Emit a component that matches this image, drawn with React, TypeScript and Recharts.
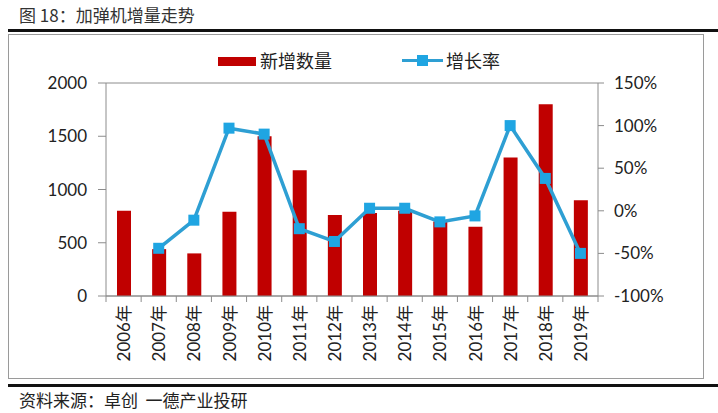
import React from "react";
import {
  ComposedChart,
  Bar,
  Line,
  XAxis,
  YAxis,
  CartesianGrid,
} from "recharts";

const years = ["2006年", "2007年", "2008年", "2009年", "2010年", "2011年", "2012年", "2013年", "2014年", "2015年", "2016年", "2017年", "2018年", "2019年"];
const newUnits = [800, 440, 400, 790, 1500, 1180, 760, 780, 800, 700, 650, 1300, 1800, 900];
const growthPct = [null, -44, -11, 97, 90, -21, -36, 3, 3, -13, -6, 100, 38, -50];
const leftTicks = [0, 500, 1000, 1500, 2000];
const rightTicks = [-100, -50, 0, 50, 100, 150];

const data = years.map((year, i) => ({ year, units: newUnits[i], growth: growthPct[i] }));

const FONT = "Lato, 'Noto Sans CJK SC', sans-serif";
const CJK = "'Noto Sans CJK SC', sans-serif";
const AXIS = "#8c8c8c";
const RED = "#C00000";
const BLUE = "#2E9FD3";
const MARK = "#1FA5E2";

const XTick = (props: any) => {
  const { x, y, payload, index, visibleTicksCount } = props;
  const off = payload && payload.offset ? payload.offset : 17.6;
  const last = index === visibleTicksCount - 1;
  return (
    <g>
      <line x1={x - off} x2={x - off} y1={y} y2={y + 6} stroke={AXIS} />
      {last && <line x1={x + off} x2={x + off} y1={y} y2={y + 6} stroke={AXIS} />}
      <text
        x={x}
        y={y + 9}
        transform={`rotate(-90, ${x}, ${y + 9})`}
        textAnchor="end"
        dominantBaseline="central"
        fontSize={17}
        fontFamily={FONT}
        fill="#222"
      >
        {payload.value}
      </text>
    </g>
  );
};

const SquareDot = (props: any) => {
  const { cx, cy, value } = props;
  if (value == null || cx == null || cy == null) return <g />;
  return <rect x={cx - 5.5} y={cy - 5.5} width={11} height={11} fill={MARK} />;
};

export default function App() {
  return (
    <div style={{ position: "absolute", left: 0, top: 0, width: 718, height: 413, background: "#fff", fontFamily: CJK }}>
      <div style={{ position: "absolute", left: 19, top: 5, fontSize: 17, lineHeight: "20px", color: "#333" }}>
        图 18：加弹机增量走势
      </div>
      <div style={{ position: "absolute", left: 8, top: 29, width: 710, height: 3, background: "#111" }} />
      <div style={{ position: "absolute", left: 8, top: 34, width: 694, height: 343, border: "1px solid #9a9a9a" }} />

      {/* legend */}
      <div style={{ position: "absolute", left: 218, top: 57, width: 38, height: 9, background: RED }} />
      <div style={{ position: "absolute", left: 260, top: 49, fontSize: 18, lineHeight: "22px", color: "#222" }}>新增数量</div>
      <div style={{ position: "absolute", left: 402, top: 59, width: 41, height: 3, background: BLUE }} />
      <div style={{ position: "absolute", left: 417, top: 55, width: 11, height: 11, background: MARK }} />
      <div style={{ position: "absolute", left: 446, top: 49, fontSize: 18, lineHeight: "22px", color: "#222" }}>增长率</div>

      <div style={{ position: "absolute", left: 8, top: 34 }}>
        <ComposedChart width={696} height={344} data={data} margin={{ top: 49, right: 0, left: 0, bottom: 0 }}>
          <CartesianGrid vertical={false} stroke={AXIS} />
          <XAxis
            dataKey="year"
            height={82}
            stroke={AXIS}
            tickLine={false}
            tickSize={0}
            tickMargin={0}
            interval={0}
            tick={<XTick />}
          />
          <YAxis
            yAxisId="left"
            width={98}
            domain={[0, 2000]}
            ticks={leftTicks}
            interval={0}
            stroke={AXIS}
            tickSize={8}
            tickMargin={11}
            tick={{ fill: "#222", fontSize: 17, fontFamily: FONT }}
          />
          <YAxis
            yAxisId="right"
            orientation="right"
            width={106}
            domain={[-100, 150]}
            ticks={rightTicks}
            interval={0}
            stroke={AXIS}
            tickSize={6}
            tickMargin={10}
            tickFormatter={(v: number) => `${v}%`}
            tick={{ fill: "#222", fontSize: 17, fontFamily: FONT }}
          />
          <Bar yAxisId="left" dataKey="units" fill={RED} barSize={14} isAnimationActive={false} />
          <Line
            yAxisId="right"
            dataKey="growth"
            stroke={BLUE}
            strokeWidth={3.5}
            dot={<SquareDot />}
            activeDot={false}
            isAnimationActive={false}
          />
        </ComposedChart>
      </div>

      <div style={{ position: "absolute", left: 8, top: 384, width: 710, height: 3, background: "#111" }} />
      <div style={{ position: "absolute", left: 19, top: 390, fontSize: 17, lineHeight: "20px", color: "#222", whiteSpace: "pre" }}>
        资料来源：卓创  一德产业投研
      </div>
    </div>
  );
}
